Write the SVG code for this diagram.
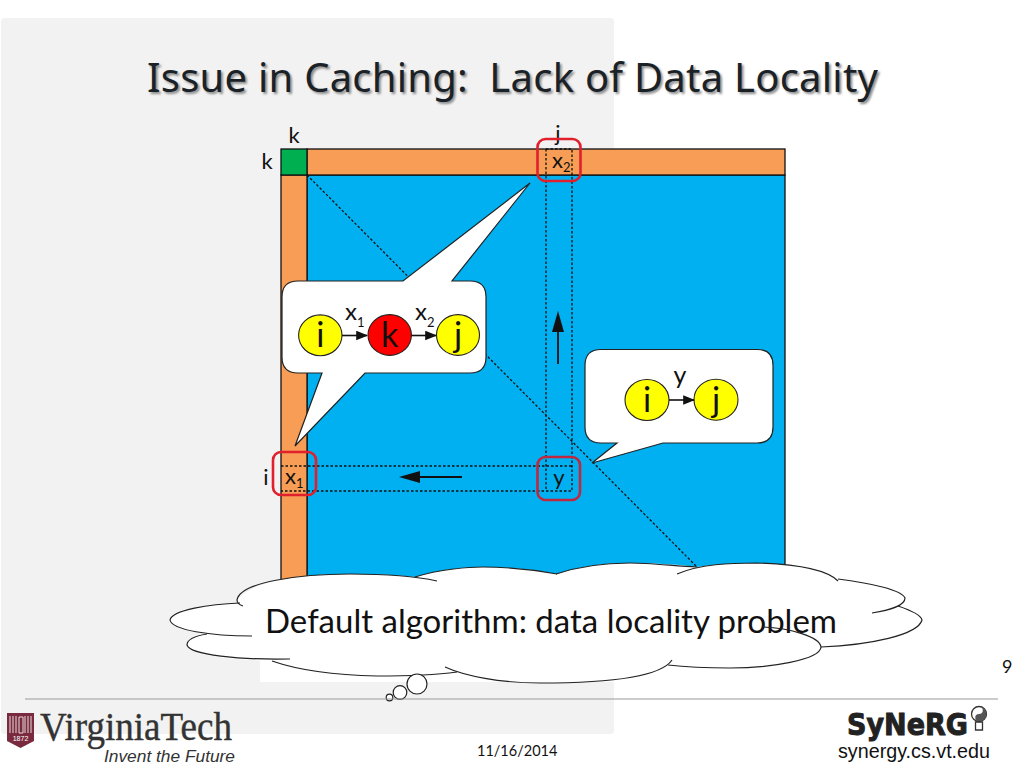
<svg xmlns="http://www.w3.org/2000/svg" width="1024" height="768" viewBox="0 0 1024 768">
<style>
text{font-family:"Lato","Noto Sans","Liberation Sans",sans-serif;fill:#111}
.cell{stroke:#111;stroke-width:1.3}
.dot{fill:none;stroke:#111;stroke-width:1.3;stroke-dasharray:2.5 2}
.red{fill:none;stroke:#e0202c;stroke-width:2.6}
.call{fill:#fff;stroke:#222;stroke-width:1.2}
.yn{fill:#ffff00;stroke:#222;stroke-width:1.1}
.rn{fill:#ff0000;stroke:#222;stroke-width:1.1}
.cl{fill:none;stroke:#222;stroke-width:1.2}
.big{font-size:34px;text-anchor:middle}
.lab{font-size:22px;text-anchor:middle}
.sub{font-size:13px}
.arr{fill:none;stroke:#111;stroke-width:1.6}
.head{fill:#111}
.wide{font-family:"Noto Sans","Open Sans",sans-serif}
</style>
<defs>
<marker id="a" markerWidth="12" markerHeight="10" refX="9" refY="4" orient="auto" markerUnits="userSpaceOnUse" viewBox="0 0 10 8"><path d="M0 0L10 4L0 8z" fill="#111"/></marker>
<filter id="soft" x="-5%" y="-20%" width="110%" height="140%"><feGaussianBlur stdDeviation="1"/></filter>
</defs>
<rect width="1024" height="768" fill="#fff"/>
<rect x="1" y="18" width="613" height="716" rx="4" fill="#f2f2f2"/>
<rect x="260" y="590" width="552" height="92" fill="#fff"/>
<g id="title">
<text class="wide" x="149" y="94" font-size="40" textLength="731" filter="url(#soft)" style="fill:#8a8a8a" xml:space="preserve">Issue in Caching:  Lack of Data Locality</text>
<text class="wide" x="147" y="92" font-size="40" textLength="731" style="fill:#1a2228" xml:space="preserve">Issue in Caching:  Lack of Data Locality</text>
</g>
<g id="matrix">
<rect class="cell" x="307" y="175" width="478" height="420" fill="#00b0f0"/>
<rect class="cell" x="307" y="149" width="478" height="26" fill="#f79d56"/>
<rect class="cell" x="281" y="175" width="26" height="420" fill="#f79d56"/>
<rect class="cell" x="281" y="149" width="26" height="26" fill="#00b050"/>
</g>
<g id="guides">
<path class="dot" d="M307 175L700 570"/>
<path class="dot" d="M546 149H572V491H281M546 149V491M281 466H572"/>
</g>
<g id="matrix-labels">
<text class="lab" x="294" y="143">k</text>
<text class="lab" x="267" y="169">k</text>
<text class="lab" x="558" y="141">j</text>
<text class="lab" x="266" y="485">i</text>
<text x="552" y="168" font-size="22">x<tspan class="sub" dy="4">2</tspan></text>
<text x="285" y="484" font-size="22">x<tspan class="sub" dy="4">1</tspan></text>
<text class="lab" x="559" y="485">y</text>
</g>
<g id="cells">
<rect class="red" x="537.500" y="139" width="43" height="42" rx="8"/>
<rect class="red" x="273" y="452" width="43" height="43" rx="8"/>
<rect x="537.500" y="457" width="42.500" height="43" rx="8" fill="none" stroke="#c0283f" stroke-width="2.600"/>
</g>
<g id="connectors">
<path d="M558 364V328" fill="none" stroke="#111" stroke-width="1.800"/>
<path class="head" d="M558 311L564 332H552z"/>
<path d="M462 477H416" fill="none" stroke="#111" stroke-width="1.800"/>
<path class="head" d="M399 477L420 471V483z"/>
</g>
<g id="callout-ikj">
<path class="call" d="M298 281H403L530 183L452 281H470Q486 281 486 297V357Q486 373 470 373H365L295 446L322 373H298Q282 373 282 357V297Q282 281 298 281Z"/>
<ellipse class="yn" cx="320.300" cy="335.300" rx="21.700" ry="20.400"/>
<ellipse class="rn" cx="389.700" cy="335" rx="21.700" ry="20.400"/>
<ellipse class="yn" cx="458" cy="335" rx="21.500" ry="20.400"/>
<text class="big" x="320.300" y="347">i</text>
<text class="big" x="389.700" y="347">k</text>
<text class="big" x="458" y="347">j</text>
<path class="arr" d="M342 335.500H367" marker-end="url(#a)"/>
<path class="arr" d="M411.500 335.500H436" marker-end="url(#a)"/>
<text x="345" y="320" font-size="24">x<tspan class="sub" dy="7">1</tspan></text>
<text x="415" y="320" font-size="24">x<tspan class="sub" dy="7">2</tspan></text>
</g>
<g id="callout-ij">
<path class="call" d="M601 349.500H757Q773 349.500 773 365.500V427Q773 443 757 443H663L592 463L617 443H601Q585 443 585 427V365.500Q585 349.500 601 349.500Z"/>
<ellipse class="yn" cx="647" cy="400" rx="22" ry="20.500"/>
<ellipse class="yn" cx="716" cy="399.700" rx="22" ry="20.500"/>
<text class="big" x="647" y="412">i</text>
<text class="big" x="716" y="412">j</text>
<path class="arr" d="M669 400H694" marker-end="url(#a)"/>
<text class="lab" x="680" y="384" style="font-size:25px">y</text>
</g>
<g id="cloud">
<path d="M237 600C255 580 300 574 350 574C375 574 400 575 415 577C440 569 470 567 483 567C510 567 535 570 557 574C580 566 605 563 630 563C650 563 675 564 697 567C715 564 735 563 757 563C790 564 825 568 838 580C870 584 900 590 905 598C905 602 902 604 898 606C915 612 922 616 922 620C918 635 870 645 821 647C815 655 770 668 730 668C705 668 685 667 668 665C655 675 600 683 540 683C500 683 465 676 445 670C420 675 400 676 377 676C330 675 295 669 272 661C230 660 187 655 187 645C187 640 195 636 207 634C185 630 170 627 170 620C172 610 210 604 237 603Z" fill="#fff"/>
<text x="265" y="633" font-size="33" textLength="572">Default algorithm: data locality problem</text>
<path class="cl" d="M437 581C410 575 380 574 350 574C300 574 240 582 237 600C237 603 240 605 243 606"/>
<path class="cl" d="M240 603C210 604 172 610 170 620C172 630 210 636 252 636"/>
<path class="cl" d="M207 634C195 636 187 640 187 645C190 655 240 660 290 659"/>
<path class="cl" d="M272 661C295 669 330 675 377 676C400 676 435 675 457 672"/>
<path class="cl" d="M445 667C465 676 500 683 540 683C600 683 660 678 672 660"/>
<path class="cl" d="M668 665C685 667 705 668 730 668C770 668 820 660 821 647C820 637 790 628 763 627"/>
<path class="cl" d="M821 647C870 645 918 635 922 620C921 615 910 610 898 606"/>
<path class="cl" d="M872 613C890 610 905 606 905 598C902 590 870 583 838 579"/>
<path class="cl" d="M838 581C825 568 790 564 757 563C730 563 700 564 677 574"/>
<path class="cl" d="M556 574C580 566 605 563 630 563C650 563 675 566 697 567"/>
<path class="cl" d="M415 577C440 569 470 567 483 567C510 567 535 570 557 574"/>
<circle class="cl" style="fill:#fff" cx="417" cy="684" r="10"/>
<circle class="cl" style="fill:#fff" cx="400" cy="692.500" r="6.800"/>
<circle class="cl" style="fill:#fff" cx="389.500" cy="697.500" r="3.300"/>
</g>
<g id="footer">
<path d="M25 699H998" stroke="#999" stroke-width="1"/>
<text x="1002" y="673" font-size="18">9</text>
<text x="477" y="756" font-size="14.500">11/16/2014</text>
</g>
<g id="logo-vt">
<path d="M7 713H34V741L20.500 748L7 741Z" fill="#7a2a3e"/>
<path d="M10 716V733M13 716V733M16 716V733M25 716V733M28 716V733M31 716V733M19 717H23V733H19Z" stroke="#e8dcdc" stroke-width="1" fill="none"/>
<text x="20.500" y="741" font-size="7" text-anchor="middle" style="fill:#fff;font-family:'Liberation Sans'">1872</text>
<text x="40" y="740" font-size="40" textLength="192" lengthAdjust="spacingAndGlyphs" stroke="#333" stroke-width="0.400" style="font-family:'Liberation Serif',serif;fill:#333">VirginiaTech</text>
<text x="104" y="762" font-size="17" textLength="131" lengthAdjust="spacingAndGlyphs" style="font-family:'Liberation Sans',sans-serif;font-style:italic;fill:#333">Invent the Future</text>
</g>
<g id="logo-synerg">
<text x="847" y="735" font-size="31" font-weight="bold" textLength="121" lengthAdjust="spacingAndGlyphs" stroke="#222" stroke-width="1" style="font-family:'DejaVu Sans',sans-serif;fill:#222">SyNeRG</text>
<circle cx="979" cy="714" r="7.500" fill="#fff" stroke="#333" stroke-width="1.300"/>
<path d="M979 706.500A3.700 3.700 0 0 1 979 714A3.700 3.700 0 0 0 979 721.500A7.500 7.500 0 0 0 979 706.500Z" fill="#555"/>
<path d="M975.500 722H982.500V730H975.500Z" fill="#fff" stroke="#333" stroke-width="1.300"/>
<text x="838" y="758" font-size="20" textLength="152" lengthAdjust="spacingAndGlyphs" style="font-family:'Liberation Sans',sans-serif;fill:#111">synergy.cs.vt.edu</text>
</g>
</svg>
